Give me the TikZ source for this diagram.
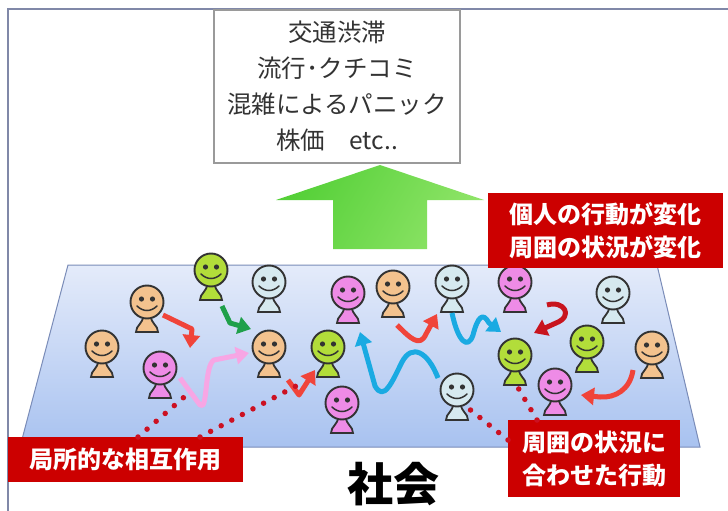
\documentclass[tikz,border=0pt]{standalone}
\usepackage{fontspec}
\newfontfamily\jp{Noto Sans CJK JP}
\usetikzlibrary{arrows.meta}

\definecolor{frameC}{HTML}{8088A8}
\definecolor{boxC}{HTML}{9A9A9A}
\definecolor{labRed}{HTML}{CC0000}
\definecolor{txtGray}{HTML}{333333}
\definecolor{planeTop}{HTML}{E4EBFA}
\definecolor{planeBot}{HTML}{A8C2F0}
\definecolor{planeEdge}{HTML}{7A8CB8}
\definecolor{orangeP}{HTML}{F3C28E}
\definecolor{greenP}{HTML}{B2DD3A}
\definecolor{blueP}{HTML}{D6E9EF}
\definecolor{pinkP}{HTML}{EE8BE6}
\definecolor{outlineP}{HTML}{333333}
\definecolor{arrRed}{HTML}{F0443A}
\definecolor{arrDark}{HTML}{C8141E}
\definecolor{arrGreen}{HTML}{1FA04A}
\definecolor{arrPink}{HTML}{F7A6E4}
\definecolor{arrBlue}{HTML}{1AAAE2}
\definecolor{dotRed}{HTML}{CC1122}
\definecolor{upL}{HTML}{55D038}
\definecolor{upR}{HTML}{8FE468}

\tikzset{
  pics/person/.style={code={
    \fill[#1, draw=outlineP, line width=1.8pt]
      (-4,14) .. controls (-4,22) and (-11,23) .. (-11,30) -- (11,30)
      .. controls (11,23) and (4,22) .. (4,14) -- cycle;
    \node[circle, fill=#1, draw=outlineP, line width=1.9pt,
          minimum size=33pt, inner sep=0pt] (-head) at (0,0) {};
    \fill[outlineP] (-5.5,-3) circle (2.6pt) (5.5,-3) circle (2.6pt);
    \draw[outlineP, line width=1.5pt, line cap=round]
      (-10,4) .. controls (-4,10) and (4,10) .. (10,4);
  }},
  moveArrow/.style={line width=5pt, line join=round,
    -{Triangle[length=13pt,width=17pt]}},
  dotline/.style={dotRed, line width=5.5pt, line cap=round,
    dash pattern=on 0pt off 12pt},
  redlab/.style={fill=labRed, text=white, font=\jp\bfseries\fontsize{24}{33}\selectfont,
    align=center, inner sep=0pt},
  topbox/.style={draw=boxC, line width=1.5pt, fill=white, text=txtGray,
    font=\jp\fontsize{24.5}{36}\selectfont, align=center, inner sep=0pt}
}

\begin{document}
\begin{tikzpicture}[x=1pt, y=-1pt]
  \useasboundingbox (0,0) rectangle (728,511);
  \fill[white] (0,0) rectangle (728,511);

  % outer frame
  \draw[frameC, line width=2pt] (8,511) -- (8,9) -- (728,9);

  % outcomes box
  \node[topbox, minimum width=246pt, minimum height=153pt] (out) at (337,86.5)
    {交通渋滞\\流行･クチコミ\\混雑によるパニック\\株価\quad etc..};

  % upward arrow
  \path[top color=upL, bottom color=upR, shading angle=60]
    (380,165) -- (484,200) -- (427,200) -- (427,249) -- (333,249)
    -- (333,200) -- (276,200) -- cycle;
  \coordinate (uptip) at (380,165);

  % society plane
  \draw[planeEdge, line width=1pt, top color=planeTop, bottom color=planeBot]
    (68,265) -- (657,265) -- (700,447) -- (20,447) -- cycle;

  % people
  \pic (pA) at (147,302) {person=orangeP};
  \pic (pB) at (102,347) {person=orangeP};
  \pic (pC) at (211,270) {person=greenP};
  \pic (pD) at (269,282) {person=blueP};
  \pic (pE) at (160,368) {person=pinkP};
  \pic (pF) at (269,347) {person=orangeP};
  \pic (pG) at (348,293) {person=pinkP};
  \pic (pH) at (393,287) {person=orangeP};
  \pic (pI) at (452,282) {person=blueP};
  \pic (pJ) at (328,347) {person=greenP};
  \pic (pK) at (342,403) {person=pinkP};
  \pic (pL) at (457,390) {person=blueP};
  \pic (pM) at (515,282) {person=pinkP};
  \pic (pN) at (613,293) {person=blueP};
  \pic (pO) at (515,355) {person=greenP};
  \pic (pP) at (587,342) {person=greenP};
  \pic (pQ) at (652,348) {person=orangeP};
  \pic (pR) at (555,385) {person=pinkP};

  % movement arrows
  \draw[moveArrow, arrRed] (163,315) -- (192,329) -- (190,348);
  \draw[moveArrow, arrGreen] (222,306) -- (230,323) -- (251,329);
  \draw[moveArrow, arrPink] (180,378) -- (200,405)
    .. controls (208,412) and (204,366) .. (214,360) -- (249,353);
  \draw[moveArrow, arrRed] (288,380) -- (299,395) -- (315,370);
  \draw[moveArrow, arrBlue] (438,378) .. controls (428,352) and (412,343) .. (402,362)
    .. controls (392,382) and (384,402) .. (375,386) -- (360,332);
  \draw[moveArrow, arrRed] (397,325) .. controls (410,338) and (420,348) .. (426,334)
    -- (437,314);
  \draw[moveArrow, arrBlue] (452,313) .. controls (458,342) and (468,350) .. (473,335)
    .. controls (478,316) and (483,312) .. (489,323) -- (501,332);
  \draw[moveArrow, arrDark] (547,305) .. controls (564,300) and (574,316) .. (556,323)
    -- (534,333);
  \draw[moveArrow, arrRed] (633,370) .. controls (630,390) and (615,398) .. (600,397)
    -- (581,395);

  % labels
  \node[redlab, minimum width=235pt, minimum height=75pt] (change) at (605.5,230.5)
    {個人の行動が変化\\周囲の状況が変化};
  \node[redlab, minimum width=235pt, minimum height=45pt] (local) at (125.5,459.5)
    {局所的な相互作用};
  \node[redlab, minimum width=172pt, minimum height=77pt] (adapt) at (594,458.5)
    {周囲の状況に\\合わせた行動};
  \node[font=\jp\bfseries\fontsize{46}{46}\selectfont, inner sep=0pt] (soc) at (393,484) {社会};

  % dotted pointers
  \coordinate (l1) at (138,437);
  \coordinate (l2) at (200,437);
  \coordinate (a1) at (508,440);
  \coordinate (a2) at (537,420);
  \draw[dotline] (l1) -- (190,392);
  \draw[dotline] (l2) -- (296,386);
  \draw[dotline] (a1) -- (468,408);
  \draw[dotline] (a2) -- (517,386);
\end{tikzpicture}
\end{document}
